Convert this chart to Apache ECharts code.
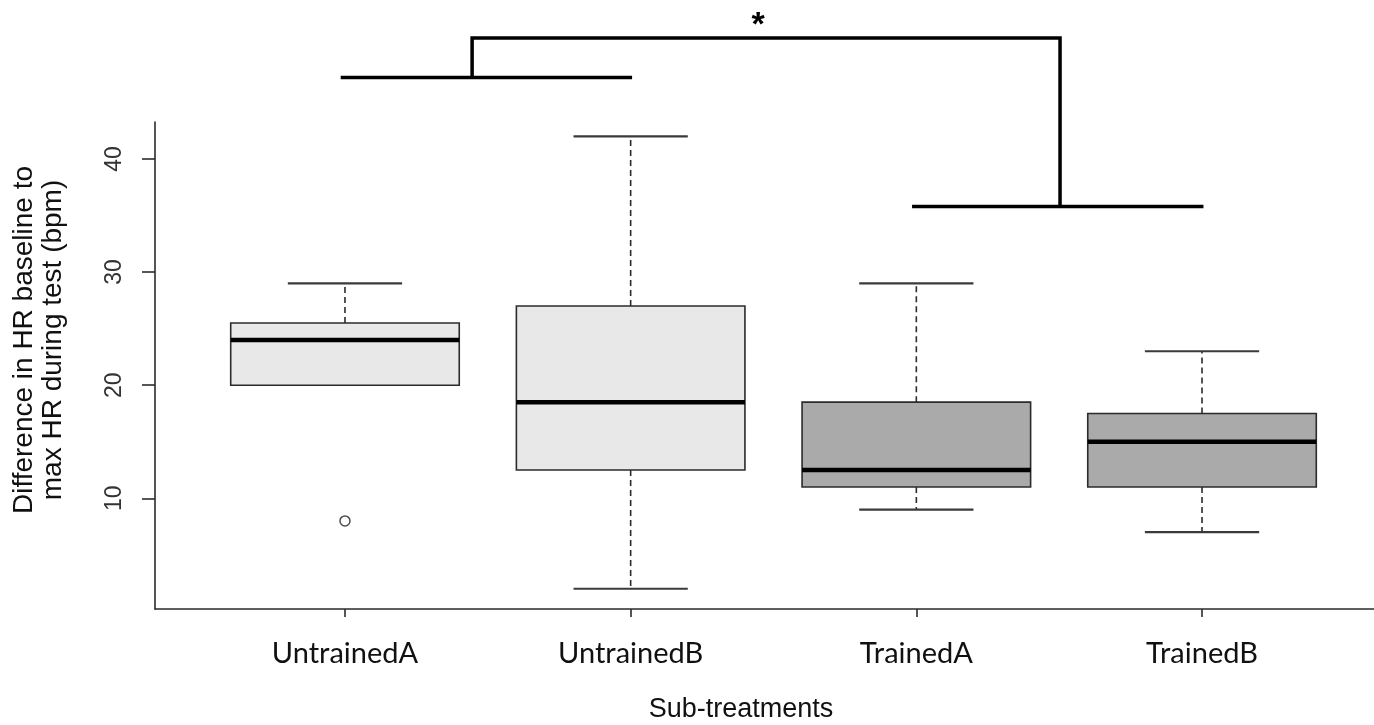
<!DOCTYPE html>
<html>
<head>
<meta charset="utf-8">
<script src="https://cdn.jsdelivr.net/npm/echarts@6/dist/echarts.min.js"></script>
<style>
html,body{margin:0;padding:0;background:#fff;}
#chart{width:1374px;height:725px;}
</style>
</head>
<body>
<div id="chart"></div>
<script>
// ---- data ----
const categories = ['UntrainedA', 'UntrainedB', 'TrainedA', 'TrainedB'];
const whiskerLow  = [20, 2, 9, 7];
const quartile1   = [20, 12.5, 11, 11];
const medians     = [24, 18.5, 12.5, 15];
const quartile3   = [25.5, 27, 18.5, 17.5];
const whiskerHigh = [29, 42, 29, 23];
const outlierCategory = [1];
const outlierValue    = [8];
const yTicks = [10, 20, 30, 40];
const xTicks = [1, 2, 3, 4];
const yTitleLines = ['Difference in HR baseline to', 'max HR during test (bpm)'];
const xTitle = 'Sub-treatments';
// significance bracket (data coordinates)
const sigLeftSpan  = [0.985, 2.005];
const sigLeftLevel = 47.2;
const sigRightSpan = [2.985, 4.005];
const sigRightLevel = 35.8;
const sigLinkX = [1.445, 3.503];
const sigTopLevel = 50.7;
const sigLabel = '*';

// ---- styles ----
const boxFill = ['#e8e8e8', '#e8e8e8', '#aaaaaa', '#aaaaaa'];
const lineCol = '#2b2b2b';
const arial = '"Liberation Sans", Arial, sans-serif';

const boxData = categories.map((c, i) => [xTicks[i], whiskerLow[i], quartile1[i], medians[i], quartile3[i], whiskerHigh[i]]);
const outlierData = outlierCategory.map((c, i) => [c, outlierValue[i]]);

function renderBox(params, api) {
  const i = params.dataIndex;
  const x = api.value(0);
  const low = api.value(1), q1 = api.value(2), med = api.value(3), q3 = api.value(4), high = api.value(5);
  const halfW = api.size([0.8, 0])[0] / 2;
  const capHalf = api.size([0.4, 0])[0] / 2;
  const pLow = api.coord([x, low]), pQ1 = api.coord([x, q1]), pMed = api.coord([x, med]);
  const pQ3 = api.coord([x, q3]), pHigh = api.coord([x, high]);
  const cx = pMed[0];
  const children = [];
  if (high > q3) {
    children.push({type: 'line', shape: {x1: cx, y1: pQ3[1], x2: cx, y2: pHigh[1]},
      style: {stroke: lineCol, lineWidth: 1.6, lineDash: [6, 4]}});
  }
  children.push({type: 'line', shape: {x1: cx - capHalf, y1: pHigh[1], x2: cx + capHalf, y2: pHigh[1]},
    style: {stroke: '#3a3a3a', lineWidth: 2.2}});
  if (low < q1) {
    children.push({type: 'line', shape: {x1: cx, y1: pQ1[1], x2: cx, y2: pLow[1]},
      style: {stroke: lineCol, lineWidth: 1.6, lineDash: [6, 4]}});
    children.push({type: 'line', shape: {x1: cx - capHalf, y1: pLow[1], x2: cx + capHalf, y2: pLow[1]},
      style: {stroke: '#3a3a3a', lineWidth: 2.2}});
  }
  children.push({type: 'rect', shape: {x: cx - halfW, y: pQ3[1], width: 2 * halfW, height: pQ1[1] - pQ3[1]},
    style: {fill: boxFill[i], stroke: lineCol, lineWidth: 1.6}});
  children.push({type: 'line', shape: {x1: cx - halfW, y1: pMed[1], x2: cx + halfW, y2: pMed[1]},
    style: {stroke: '#000', lineWidth: 4.5}});
  return {type: 'group', children: children};
}

function renderBracket(params, api) {
  const a1 = api.coord([sigLeftSpan[0], sigLeftLevel]);
  const a2 = api.coord([sigLeftSpan[1], sigLeftLevel]);
  const b1 = api.coord([sigRightSpan[0], sigRightLevel]);
  const b2 = api.coord([sigRightSpan[1], sigRightLevel]);
  const l1 = api.coord([sigLinkX[0], sigLeftLevel]);
  const t1 = api.coord([sigLinkX[0], sigTopLevel]);
  const t2 = api.coord([sigLinkX[1], sigTopLevel]);
  const r1 = api.coord([sigLinkX[1], sigRightLevel]);
  const star = api.coord([(sigLinkX[0] + sigLinkX[1]) / 2, sigTopLevel]);
  const st = {stroke: '#000', lineWidth: 3.5, fill: null, lineJoin: 'miter'};
  return {type: 'group', children: [
    {type: 'line', shape: {x1: a1[0], y1: a1[1], x2: a2[0], y2: a2[1]}, style: st},
    {type: 'line', shape: {x1: b1[0], y1: b1[1], x2: b2[0], y2: b2[1]}, style: st},
    {type: 'polyline', shape: {points: [l1, t1, t2, r1]}, style: st},
    {type: 'text', x: star[0] - 8, y: star[1] - 12, style: {text: sigLabel, fill: '#000',
      font: 'bold 34px ' + arial, align: 'center', verticalAlign: 'middle'}}
  ]};
}

const chart = echarts.init(document.getElementById('chart'), null, {renderer: 'canvas'});
chart.setOption({
  animation: false,
  backgroundColor: '#fff',
  grid: {left: 155, right: 0, top: 122, height: 487, containLabel: false},
  xAxis: {
    type: 'value', min: 0.335, max: 4.602,
    splitLine: {show: false},
    axisLine: {show: true, lineStyle: {color: lineCol, width: 1.6}},
    axisTick: {show: true, length: 8, customValues: xTicks, lineStyle: {color: lineCol, width: 1.6}},
    axisLabel: {customValues: xTicks, formatter: v => categories[Math.round(v) - 1] || '',
      fontFamily: 'Lato, "Open Sans", sans-serif', fontSize: 29, color: '#111', margin: 30}
  },
  yAxis: {
    type: 'value', min: 0.21, max: 43.27,
    splitLine: {show: false},
    axisLine: {show: true, lineStyle: {color: lineCol, width: 1.6}},
    axisTick: {show: true, length: 13, customValues: yTicks, lineStyle: {color: lineCol, width: 1.6}},
    axisLabel: {customValues: yTicks, rotate: 90, fontFamily: arial,
      fontSize: 23, color: '#333', margin: 29}
  },
  graphic: [
    {type: 'text', x: 24, y: 340, rotation: Math.PI / 2,
      style: {text: yTitleLines[0], font: '28px ' + arial, fill: '#111', align: 'center', verticalAlign: 'middle'}},
    {type: 'text', x: 53, y: 340, rotation: Math.PI / 2,
      style: {text: yTitleLines[1], font: '28px ' + arial, fill: '#111', align: 'center', verticalAlign: 'middle'}},
    {type: 'text', x: 741, y: 710,
      style: {text: xTitle, font: '27px ' + arial, fill: '#111', align: 'center', verticalAlign: 'middle'}}
  ],
  series: [
    {type: 'custom', renderItem: renderBox, data: boxData, encode: {x: 0, y: [1, 2, 3, 4, 5]}, clip: false, z: 2},
    {type: 'scatter', data: outlierData, symbol: 'circle', symbolSize: 10,
      itemStyle: {color: '#fff', borderColor: '#222', borderWidth: 1.5}, z: 3},
    {type: 'custom', renderItem: renderBracket, data: [[sigLinkX[0], sigTopLevel]], encode: {x: 0, y: 1}, clip: false, z: 4, silent: true}
  ]
});
</script>
</body>
</html>
